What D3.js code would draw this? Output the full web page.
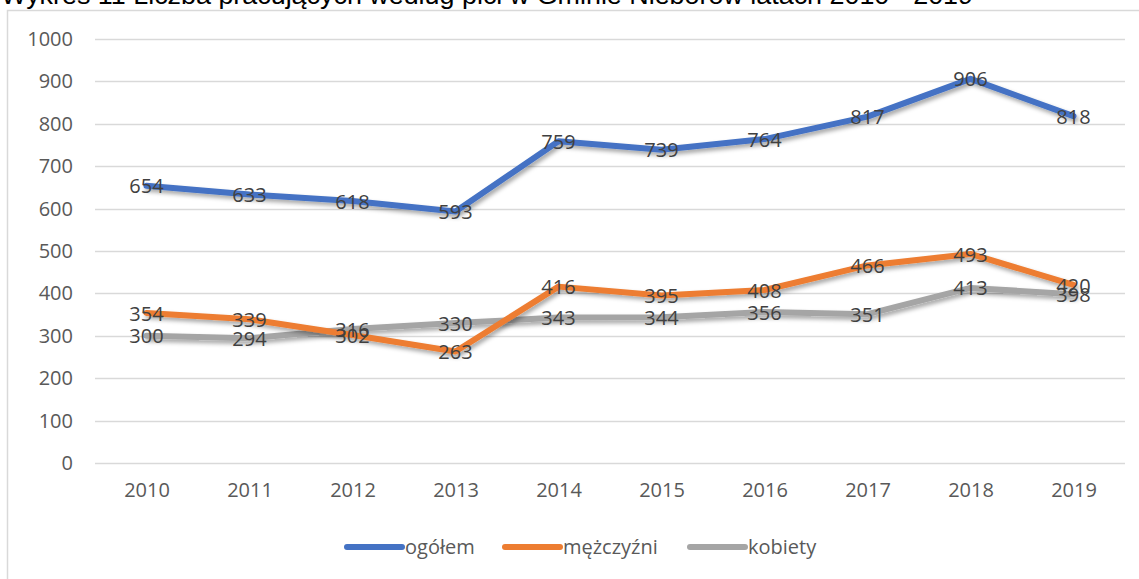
<!DOCTYPE html>
<html>
<head>
<meta charset="utf-8">
<script src="https://cdn.jsdelivr.net/npm/d3@7"></script>
<style>
  body { margin: 0; background: #fff; }
  svg { display: block; }
</style>
</head>
<body>
<div id="chart"></div>
<script>
// data
const years = ['2010','2011','2012','2013','2014','2015','2016','2017','2018','2019'];
const ogolem = [654, 633, 618, 593, 759, 739, 764, 817, 906, 818];
const mezczyzni = [354, 339, 302, 263, 416, 395, 408, 466, 493, 420];
const kobiety = [300, 294, 316, 330, 343, 344, 356, 351, 413, 398];
const seriesNames = ['ogółem', 'mężczyźni', 'kobiety'];
const yTicks = [0, 100, 200, 300, 400, 500, 600, 700, 800, 900, 1000];

const width = 1139, height = 579;
const font = "'Open Sans', sans-serif";
const colors = ['#4472c4', '#ed7d31', '#a5a5a5'];

const svg = d3.select('#chart').append('svg')
  .attr('width', width)
  .attr('height', height);

// soft shadow like the office chart
const defs = svg.append('defs');
defs.append('filter')
  .attr('id', 'shadow')
  .attr('x', '-5%').attr('y', '-20%').attr('width', '110%').attr('height', '140%')
  .append('feDropShadow')
  .attr('dx', 2).attr('dy', 3)
  .attr('stdDeviation', 2)
  .attr('flood-color', '#000')
  .attr('flood-opacity', 0.35);

// chart frame (cut off on right and bottom)
svg.append('rect')
  .attr('x', 7.5).attr('y', 10.5)
  .attr('width', 1200).attr('height', 700)
  .attr('fill', 'none')
  .attr('stroke', '#d9d9d9')
  .attr('stroke-width', 1.5);

// title, clipped at the top edge
svg.append('text')
  .attr('x', 1).attr('y', 4)
  .attr('font-family', "'Liberation Sans', Arial, sans-serif")
  .attr('font-size', 26)
  .attr('textLength', 972)
  .attr('lengthAdjust', 'spacingAndGlyphs')
  .attr('fill', '#000')
  .text('Wykres 11 Liczba pracujących według płci w Gminie Nieborów latach 2010 - 2019');

const x = d3.scalePoint()
  .domain(years)
  .range([95, 1125])
  .padding(0.5);

const y = d3.scaleLinear()
  .domain([0, 1000])
  .range([463, 39]);

// gridlines
svg.append('g')
  .selectAll('line')
  .data(yTicks)
  .join('line')
  .attr('x1', 95).attr('x2', 1125)
  .attr('y1', d => Math.round(y(d)) + 0.5)
  .attr('y2', d => Math.round(y(d)) + 0.5)
  .attr('stroke', '#d9d9d9')
  .attr('stroke-width', 1.5);

// y axis labels
const yAxis = d3.axisLeft(y).tickValues(yTicks).tickFormat(d3.format('d')).tickSize(0).tickPadding(0);
svg.append('g')
  .attr('transform', 'translate(73,0)')
  .call(yAxis)
  .call(g => g.select('.domain').remove())
  .selectAll('text')
  .attr('font-family', font)
  .attr('font-size', 20)
  .attr('fill', '#595959');

// x axis labels
const xAxis = d3.axisBottom(x).tickSize(0).tickPadding(0);
svg.append('g')
  .attr('transform', 'translate(0,483)')
  .call(xAxis)
  .call(g => g.select('.domain').remove())
  .selectAll('text')
  .attr('font-family', font)
  .attr('font-size', 20)
  .attr('fill', '#595959');

const allSeries = [ogolem, mezczyzni, kobiety];

const line = d3.line()
  .x((d, i) => x(years[i]))
  .y(d => y(d));

// lines, drawn back to front like the original
[2, 1, 0].forEach(k => {
  svg.append('path')
    .datum(allSeries[k])
    .attr('d', line)
    .attr('fill', 'none')
    .attr('stroke', colors[k])
    .attr('stroke-width', 6)
    .attr('stroke-linejoin', 'round')
    .attr('stroke-linecap', 'round')
    .attr('filter', 'url(#shadow)');
});

// data labels centred on the points
allSeries.forEach(vals => {
  svg.append('g')
    .selectAll('text')
    .data(vals)
    .join('text')
    .attr('x', (d, i) => x(years[i]))
    .attr('y', d => y(d))
    .attr('dy', '0.38em')
    .attr('text-anchor', 'middle')
    .attr('font-family', font)
    .attr('font-size', 20)
    .attr('fill', '#404040')
    .text(d => d);
});

// legend
const legendX = [347, 505, 690];
const legend = svg.append('g');
seriesNames.forEach((name, i) => {
  legend.append('line')
    .attr('x1', legendX[i]).attr('x2', legendX[i] + 55)
    .attr('y1', 547).attr('y2', 547)
    .attr('stroke', colors[i])
    .attr('stroke-width', 6)
    .attr('stroke-linecap', 'round');
  legend.append('text')
    .attr('x', legendX[i] + 58)
    .attr('y', 547)
    .attr('dy', '0.35em')
    .attr('font-family', font)
    .attr('font-size', 20)
    .attr('fill', '#595959')
    .text(name);
});
</script>
</body>
</html>
